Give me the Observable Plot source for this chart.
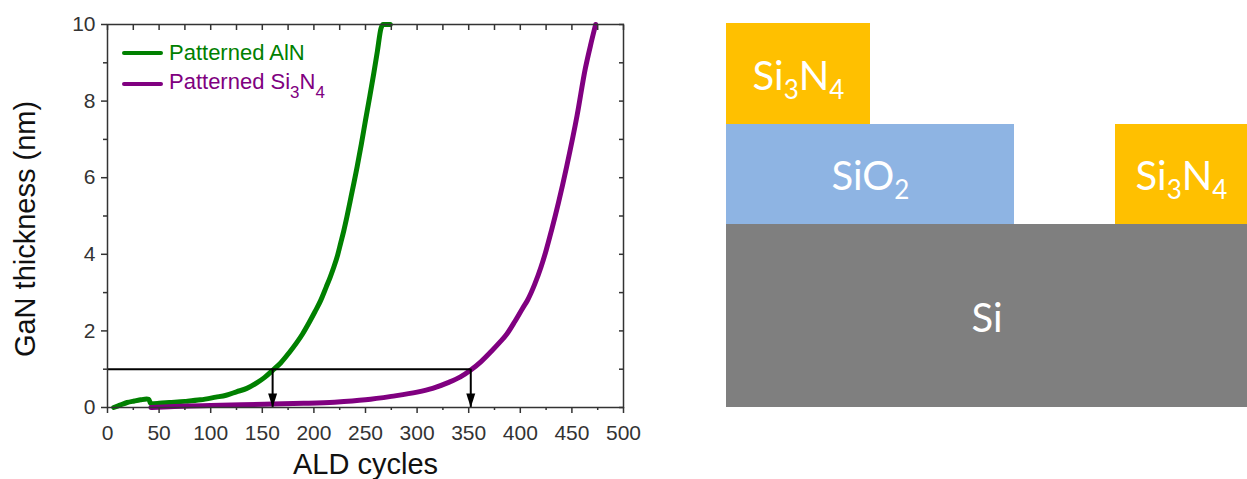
<!DOCTYPE html>
<html><head><meta charset="utf-8">
<script src="https://cdn.jsdelivr.net/npm/d3@7"></script>
<script src="https://cdn.jsdelivr.net/npm/@observablehq/plot@0.6"></script>
<style>
body{margin:0;background:#fff}
#wrap{position:relative;width:1247px;height:479px;overflow:hidden;background:#fff}
#chart{position:absolute;left:0;top:0}
#schem{position:absolute;left:700px;top:0}
.leg{position:absolute;font-family:"Liberation Sans",Arial,sans-serif;font-size:22px;line-height:22px;white-space:nowrap}
.sw{position:absolute;width:41px;height:4px;border-radius:2px}
</style></head><body>
<div id="wrap"><div id="chart"></div><div id="schem"></div><div id="legend"></div></div>
<script>
// ---- Growth curves ----
const alnCycles = [6,12,19,26,32,38,40,42,50,60,75,90,105,115,125,135,145,152,160,168,176,183,189,195,201,206.5,212,216,219.5,223,226,229,232,236,242,246,250,254,258,261.5,265,267,274];
const alnThickness = [0,0.06,0.13,0.17,0.2,0.22,0.21,0.1,0.11,0.13,0.16,0.2,0.27,0.32,0.41,0.5,0.65,0.78,0.97,1.17,1.43,1.68,1.92,2.2,2.5,2.79,3.15,3.42,3.68,3.98,4.3,4.62,4.98,5.5,6.3,6.88,7.5,8.1,8.72,9.3,9.9,10,10];
const sinCycles = [42,60,80,100,130,160,190,220,250,275,300,315,330,342,352,362,372,380,387,395,402,407,414,420,425,430,437,445,455,463,468,473];
const sinThickness = [0,0.02,0.04,0.05,0.07,0.09,0.11,0.14,0.2,0.29,0.4,0.5,0.65,0.8,0.98,1.2,1.47,1.7,1.92,2.26,2.58,2.8,3.22,3.66,4.1,4.6,5.35,6.3,7.62,8.85,9.45,10];
const seriesNames = ["Patterned AlN", "Patterned Si3N4"];
const seriesColors = ["#008000", "#800080"];
// guide: 1 nm threshold and the cycles where each curve crosses it
const guideThickness = 1;
const markerCycles = [160, 352];
// axis ticks
const xTicks = [0,50,100,150,200,250,300,350,400,450,500];
const xMinor = [25,75,125,175,225,275,325,375,425,475];
const yTicks = [0,2,4,6,8,10];
const yMinor = [1,3,5,7,9];
const xLabel = "ALD cycles";
const yLabel = "GaN thickness (nm)";

// ---- Schematic layer stack ----
const layerMaterial = ["Si", "SiO2", "Si3N4", "Si3N4"];
const layerX1 = [0, 0, 0, 3.89];
const layerX2 = [5.21, 2.88, 1.44, 5.21];
const layerY1 = [0, 1.83, 2.83, 1.83];
const layerY2 = [1.83, 2.83, 3.84, 2.83];
const materials = ["Si", "SiO2", "Si3N4"];
const materialColors = ["#7f7f7f", "#8eb4e3", "#ffc000"];

const font = '"Liberation Sans", Arial, sans-serif';
const alnData = alnCycles.map((c, i) => ({c, t: alnThickness[i]}));
const sinData = sinCycles.map((c, i) => ({c, t: sinThickness[i]}));
const blank = () => "";
const arrowHead = {draw(ctx, size) {
  const r = Math.sqrt(size / Math.PI);
  ctx.moveTo(-0.9 * r, -1.4 * r); ctx.lineTo(0.9 * r, -1.4 * r); ctx.lineTo(0, 1.4 * r); ctx.closePath();
}};

const chart = Plot.plot({
  width: 700, height: 479,
  marginLeft: 107, marginRight: 77, marginTop: 24, marginBottom: 72,
  style: {fontFamily: font, background: "transparent", overflow: "visible"},
  x: {domain: [0, 500]},
  y: {domain: [0, 10]},
  marks: [
    Plot.line(alnData, {x: "c", y: "t", stroke: seriesColors[0], strokeWidth: 5, curve: "monotone-x"}),
    Plot.line(sinData, {x: "c", y: "t", stroke: seriesColors[1], strokeWidth: 5, curve: "monotone-x"}),
    Plot.ruleY([guideThickness], {x1: 0, x2: d3.max(markerCycles), stroke: "black", strokeWidth: 2}),
    Plot.ruleX(markerCycles, {x: d => d, y1: guideThickness, y2: 0, stroke: "black", strokeWidth: 2}),
    Plot.dot(markerCycles, {x: d => d, y: () => 0, symbol: arrowHead, r: 5, fill: "black", stroke: null, dy: -7}),
    Plot.frame({stroke: "#333", strokeWidth: 1.5}),
    Plot.axisX(xTicks, {tickSize: 6, tickPadding: 12, fontSize: 21, color: "#333", strokeWidth: 1.5, label: null}),
    Plot.axisX(xMinor, {tickSize: 3, tickFormat: blank, color: "#333", strokeWidth: 1.5, label: null}),
    Plot.axisX(xTicks.concat(xMinor), {anchor: "top", tickSize: -5, tickFormat: blank, color: "#333", strokeWidth: 1.5, label: null}),
    Plot.axisY(yTicks, {tickSize: 6, tickPadding: 6, fontSize: 21, color: "#333", strokeWidth: 1.5, label: null}),
    Plot.axisY(yMinor, {tickSize: 4, tickFormat: blank, color: "#333", strokeWidth: 1.5, label: null}),
    Plot.axisY(yTicks.concat(yMinor), {anchor: "right", tickSize: -5, tickFormat: blank, color: "#333", strokeWidth: 1.5, label: null}),
    Plot.text([xLabel], {frameAnchor: "bottom", textAnchor: "middle", lineAnchor: "middle", dy: 57, fontSize: 29, fill: "#111"}),
    Plot.text([yLabel], {frameAnchor: "left", textAnchor: "middle", lineAnchor: "middle", rotate: -90, dx: -82, dy: 13, fontSize: 29, fill: "#111"})
  ]
});
document.getElementById("chart").appendChild(chart);

// legend
const legendLineY = [53.3, 84.3];
const legendTextY = [52.5, 81.7];
const legend = document.getElementById("legend");
const subHTML = s => s.replace(/(\d+)/g, '<span style="font-size:0.77em;position:relative;top:9px">$1</span>');
seriesNames.forEach((name, i) => {
  const sw = document.createElement("div");
  sw.className = "sw";
  sw.style.left = "122px"; sw.style.top = (legendLineY[i] - 2) + "px";
  sw.style.background = seriesColors[i];
  legend.appendChild(sw);
  const tx = document.createElement("div");
  tx.className = "leg";
  tx.style.left = "169px"; tx.style.top = (legendTextY[i] - 11) + "px";
  tx.style.color = seriesColors[i];
  tx.innerHTML = subHTML(name);
  legend.appendChild(tx);
});

// schematic
const idx = d3.range(layerMaterial.length);
const schem = Plot.plot({
  width: 547, height: 479,
  marginLeft: 26, marginRight: 0, marginTop: 23, marginBottom: 72,
  style: {background: "transparent"},
  x: {domain: [0, 5.21], axis: null},
  y: {domain: [0, 3.84], axis: null},
  color: {domain: materials, range: materialColors},
  marks: [
    Plot.rect(idx, {x1: i => layerX1[i], x2: i => layerX2[i], y1: i => layerY1[i], y2: i => layerY2[i], fill: i => layerMaterial[i]}),
    Plot.text(idx, {x: i => (layerX1[i] + layerX2[i]) / 2, y: i => (layerY1[i] + layerY2[i]) / 2,
      text: i => layerMaterial[i], fill: "white", fontSize: 40, fontFamily: "Lato", dy: 3})
  ]
});
document.getElementById("schem").appendChild(schem);
d3.select(schem).selectAll('g[aria-label="text"] text').each(function() {
  const s = this.textContent; const t = d3.select(this); t.text(null);
  let shifted = false;
  for (const part of s.match(/\d+|\D+/g)) {
    const sp = t.append("tspan").text(part);
    if (/\d/.test(part)) { sp.attr("font-size", 26).attr("dy", 9); shifted = true; }
    else if (shifted) { sp.attr("dy", -9); shifted = false; }
  }
});
</script>
</body></html>
